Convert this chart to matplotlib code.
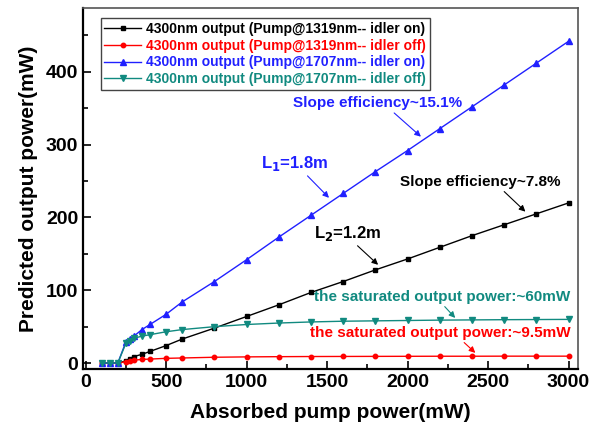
import matplotlib
matplotlib.use("Agg")
import matplotlib.pyplot as plt
from matplotlib.ticker import MultipleLocator

plt.rcParams['font.family'] = ['Liberation Sans', 'DejaVu Sans']
plt.rcParams['font.weight'] = 'bold'

# absorbed pump power (mW)
pump = [100, 150, 200, 250, 275, 300, 350, 400, 500, 600, 800, 1000,
        1200, 1400, 1600, 1800, 2000, 2200, 2400, 2600, 2800, 3000]

# predicted 4300nm output (mW)
p1319_on = [0, 0, 0, 3, 6, 9, 12, 16, 24, 33, 48, 64,
            80, 97, 112, 128, 143, 159, 175, 190, 205, 220]
p1319_off = [0, 0, 0, 2, 3, 4, 5, 5.5, 6.5, 7, 8, 8.5,
             8.8, 9, 9.1, 9.2, 9.3, 9.4, 9.4, 9.5, 9.5, 9.5]
p1707_on = [0, 0, 0, 29, 33, 37, 46, 53, 67, 84, 112, 142,
            173, 203, 233, 263, 292, 322, 352, 382, 412, 442]
p1707_off = [0, 0, 0, 27, 30, 34, 37, 39, 43, 46, 50, 53,
             55, 56.5, 57.5, 58, 58.5, 59, 59.3, 59.6, 59.8, 60]

labels = ["4300nm output (Pump@1319nm-- idler on)",
          "4300nm output (Pump@1319nm-- idler off)",
          "4300nm output (Pump@1707nm-- idler on)",
          "4300nm output (Pump@1707nm-- idler off)"]

BLUE = "#2020ff"
TEAL = "#118a80"

fig = plt.figure(figsize=(5.9, 4.34), dpi=100)
ax = fig.add_axes([0.141, 0.150, 0.839, 0.832])

ax.plot(pump, p1319_on, "-s", color="black", ms=3.2, lw=1, label=labels[0])
ax.plot(pump, p1319_off, "-o", color="red", ms=3.2, lw=1, label=labels[1])
ax.plot(pump, p1707_on, "-^", color=BLUE, ms=4.2, lw=1, label=labels[2])
ax.plot(pump, p1707_off, "-v", color=TEAL, ms=4.2, lw=1, label=labels[3])

ax.set_xlim(-15, 3060)
ax.set_ylim(-8, 488)
ax.xaxis.set_major_locator(MultipleLocator(500))
ax.xaxis.set_minor_locator(MultipleLocator(250))
ax.yaxis.set_major_locator(MultipleLocator(100))
ax.yaxis.set_minor_locator(MultipleLocator(50))
ax.tick_params(which="both", direction="in", top=False, right=False,
               labelsize=14, width=1.2)
ax.tick_params(which="major", length=6)
ax.tick_params(which="minor", length=3.5)
for lab in ax.get_xticklabels() + ax.get_yticklabels():
    lab.set_fontweight("bold")

ax.spines["left"].set_linewidth(1.6)
ax.spines["bottom"].set_linewidth(1.6)
for s in ["top", "right"]:
    ax.spines[s].set_color("#555555")
    ax.spines[s].set_linewidth(1.2)

ax.set_xlabel("Absorbed pump power(mW)", fontsize=15, fontweight="bold", labelpad=9)
ax.set_ylabel("Predicted output power(mW)", fontsize=15, fontweight="bold", labelpad=6)

leg = ax.legend(loc="upper left", bbox_to_anchor=(0.022, 0.99), fontsize=10,
                labelcolor="linecolor", handlelength=2.6, handletextpad=0.4,
                borderpad=0.25, labelspacing=0.2, fancybox=False,
                edgecolor="#444444", framealpha=1)
leg.get_frame().set_linewidth(1.0)


def note(text, xy, xytext, color, size, rel):
    ax.annotate(text, xy=xy, xytext=xytext, color=color, fontsize=size,
                fontweight="bold", ha="left", va="center",
                arrowprops=dict(arrowstyle="-|>", color=color, lw=0.8,
                                mutation_scale=9, shrinkA=0, shrinkB=0,
                                relpos=(rel, 0.0)))


note("Slope efficiency~15.1%", (2083, 311), (1288, 357), BLUE, 11, 0.58)
note("L$_\\mathbf{1}$=1.8m", (1512, 227), (1089, 274), BLUE, 12, 0.65)
note("L$_\\mathbf{2}$=1.2m", (1817, 135), (1419, 178), "black", 12, 0.6)
note("Slope efficiency~7.8%", (2732, 208), (1954, 249), "black", 11, 0.63)
note("the saturated output power:~60mW", (2296, 62), (1419, 91), TEAL, 11, 0.5)
note("the saturated output power:~9.5mW", (2421, 14), (1394, 41.6), "red", 11, 0.58)

fig.savefig("out.png", dpi=100)
